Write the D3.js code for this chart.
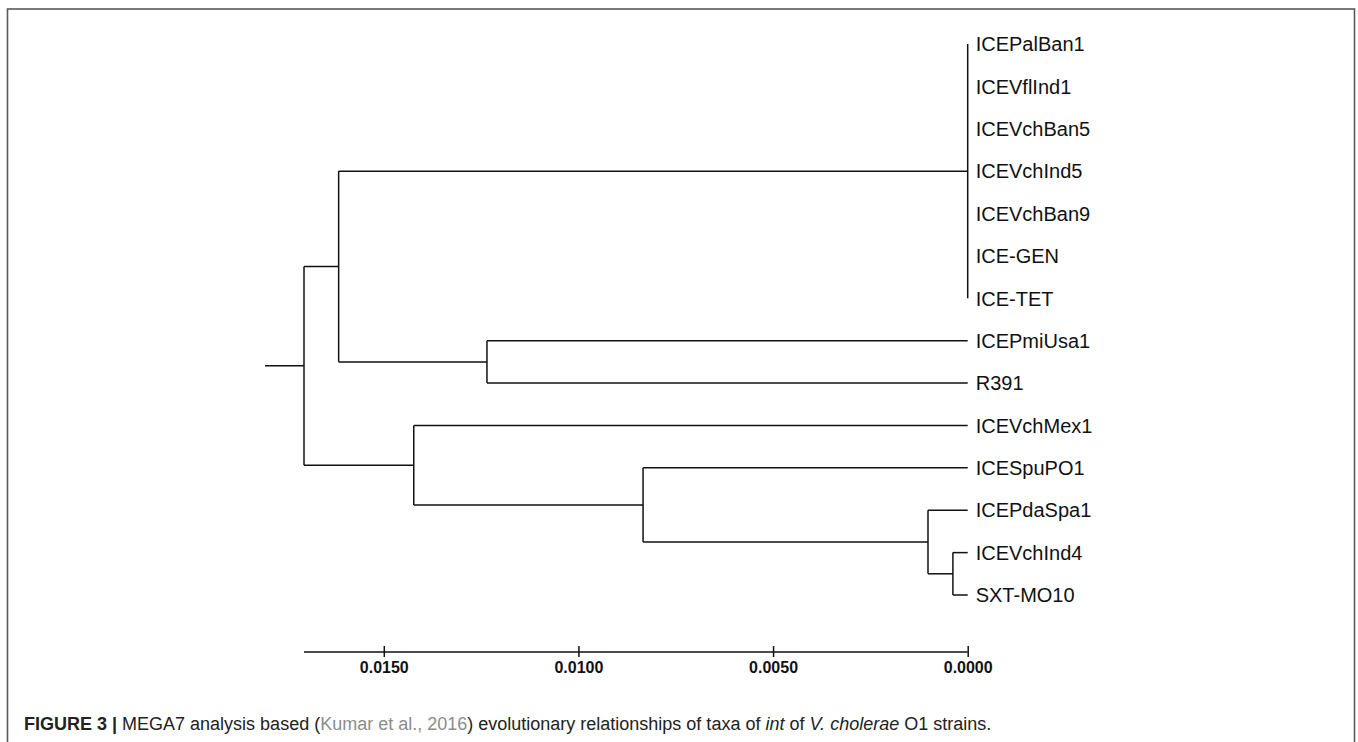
<!DOCTYPE html>
<html>
<head>
<meta charset="utf-8">
<script src="https://cdn.jsdelivr.net/npm/d3@7"></script>
<style>
  html, body { margin: 0; padding: 0; background: #fff; }
  svg { display: block; }
</style>
</head>
<body>
<div id="chart"></div>
<script>
// Tip labels, top to bottom
const taxa = ["ICEPalBan1", "ICEVflInd1", "ICEVchBan5", "ICEVchInd5", "ICEVchBan9",
              "ICE-GEN", "ICE-TET", "ICEPmiUsa1", "R391", "ICEVchMex1",
              "ICESpuPO1", "ICEPdaSpa1", "ICEVchInd4", "SXT-MO10"];
// Parent clade of each tip
const taxonParents = ["n7", "n7", "n7", "n7", "n7", "n7", "n7", "n3", "n3", "n4",
                      "n5", "n6", "n8", "n8"];

// Internal nodes, their parents and their heights (distance to the tips)
const internalNodes = ["root", "n2", "n7", "n3", "n4", "n5", "n6", "n8"];
const internalParents = ["", "root", "n2", "n2", "root", "n4", "n5", "n6"];
const nodeHeights = [0.01705, 0.01616, 0.0, 0.01235, 0.01423, 0.00834, 0.00102, 0.00038];

const axisTicks = [0.0150, 0.0100, 0.0050, 0.0000];

const width = 1358,
      height = 742;

const svg = d3.select("#chart")
              .append("svg")
              .attr("width", width)
              .attr("height", height);

// Frame
svg.append("rect")
   .attr("x", 7.5)
   .attr("y", 9)
   .attr("width", 1347)
   .attr("height", 760)
   .attr("fill", "none")
   .attr("stroke", "#5a5a5a")
   .attr("stroke-width", 1.6);

// Build the hierarchy
let rows = internalNodes.map((id, i) => ({ id, parent: internalParents[i] || null, h: nodeHeights[i] }));
taxa.forEach((t, i) => rows.push({ id: t, parent: taxonParents[i], h: 0, leaf: true, order: i }));

const root = d3.stratify()
               .id(d => d.id)
               .parentId(d => d.parent)(rows);

// keep the leaf order of the picture
root.sort((a, b) => minOrder(a) - minOrder(b));
function minOrder(n) {
    return d3.min(n.leaves(), l => l.data.order);
}

const x = d3.scaleLinear()
            .domain([nodeHeights[0], 0])
            .range([304, 967.7]);

const y = d3.scaleLinear()
            .domain([0, taxa.length - 1])
            .range([44, 595]);

// tip y by order, internal node y = middle of first and last child
root.eachAfter(n => {
    if (!n.children) {
        n.py = y(n.data.order);
    } else {
        n.py = (n.children[0].py + n.children[n.children.length - 1].py) / 2;
    }
    n.px = x(n.data.h);
});

const g = svg.append("g")
             .attr("fill", "none")
             .attr("stroke", "#111")
             .attr("stroke-width", 1.5);

// root stub
g.append("line")
 .attr("x1", root.px - 39)
 .attr("x2", root.px)
 .attr("y1", root.py)
 .attr("y2", root.py);

// vertical bars of the clades
g.selectAll(".vbar")
 .data(root.descendants().filter(d => d.children))
 .join("line")
   .attr("class", "vbar")
   .attr("x1", d => d.px)
   .attr("x2", d => d.px)
   .attr("y1", d => d.children[0].py)
   .attr("y2", d => d.children[d.children.length - 1].py);

// horizontal branches
g.selectAll(".hbar")
 .data(root.descendants().filter(d => d.parent && d.px > d.parent.px))
 .join("line")
   .attr("class", "hbar")
   .attr("x1", d => d.parent.px)
   .attr("x2", d => d.px)
   .attr("y1", d => d.py)
   .attr("y2", d => d.py);

// tip labels
svg.append("g")
   .selectAll("text")
   .data(root.leaves())
   .join("text")
     .attr("x", d => d.px + 8)
     .attr("y", d => d.py)
     .attr("dy", "0.36em")
     .style("font", "20px 'Liberation Sans', Arial, sans-serif")
     .attr("fill", "#111")
     .text(d => d.data.id);

// scale bar
const axisY = 652;
const axis = svg.append("g")
   .attr("transform", `translate(0,${axisY})`)
   .call(d3.axisBottom(x).tickValues(axisTicks).tickFormat(d3.format(".4f")).tickSize(0));

axis.select(".domain")
    .attr("d", `M${x(nodeHeights[0])},0H${x(0)}`)
    .attr("stroke", "#111")
    .attr("stroke-width", 1.5);

axis.selectAll(".tick line")
    .attr("y1", -6)
    .attr("y2", 5)
    .attr("stroke", "#111")
    .attr("stroke-width", 1.5);

axis.selectAll(".tick text")
    .attr("y", 21)
    .attr("dy", 0)
    .attr("fill", "#111")
    .style("font", "bold 16px 'Liberation Sans', Arial, sans-serif");

// caption
const cap = svg.append("text")
   .attr("x", 24)
   .attr("y", 730)
   .attr("fill", "#222")
   .style("font", "18px 'Liberation Sans', Arial, sans-serif");

cap.append("tspan").attr("font-weight", "bold").text("FIGURE 3 | ");
cap.append("tspan").text("MEGA7 analysis based (");
cap.append("tspan").attr("fill", "#8c8c8c").text("Kumar et al., 2016");
cap.append("tspan").text(") evolutionary relationships of taxa of ");
cap.append("tspan").attr("font-style", "italic").text("int");
cap.append("tspan").text(" of ");
cap.append("tspan").attr("font-style", "italic").text("V. cholerae");
cap.append("tspan").text(" O1 strains.");
</script>
</body>
</html>
